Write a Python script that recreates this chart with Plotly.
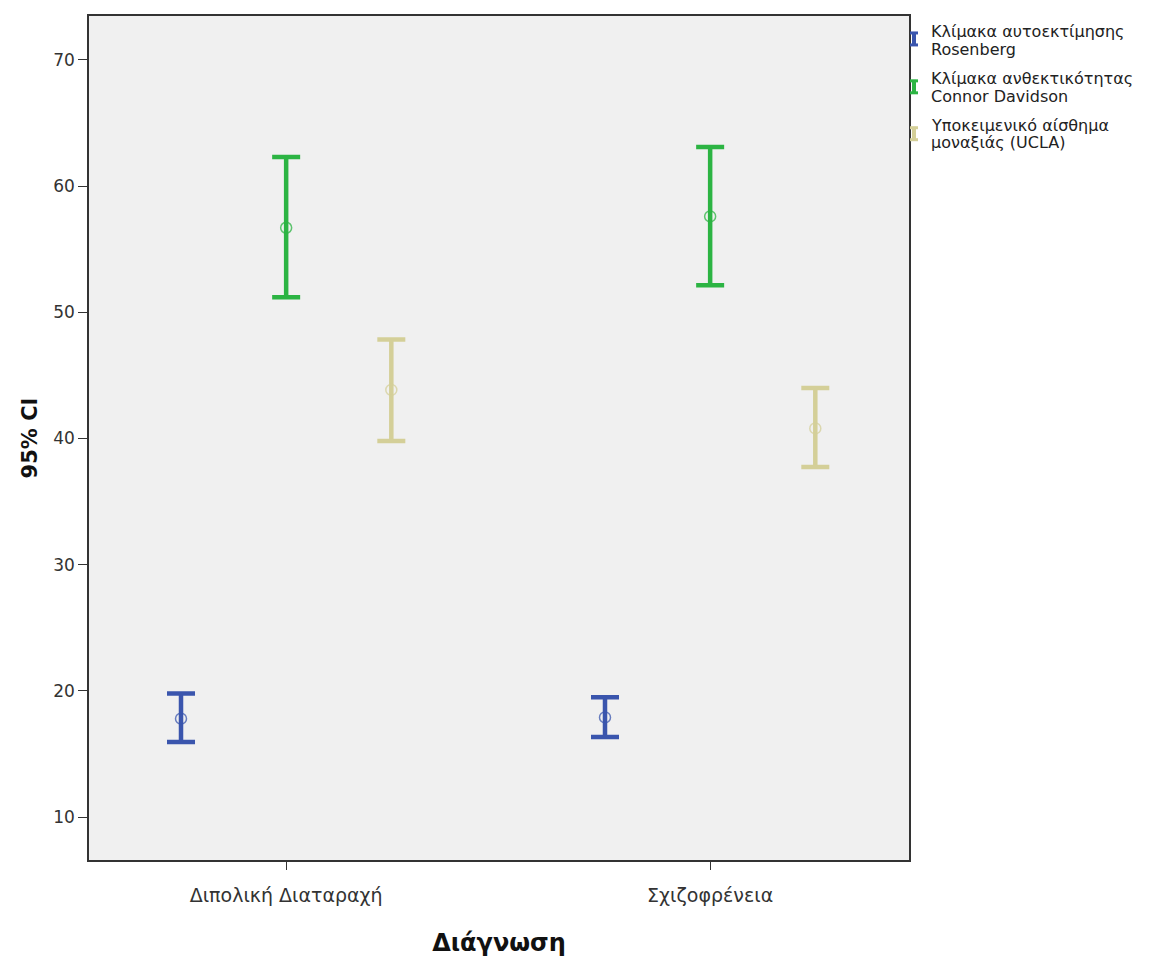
import plotly.graph_objects as go

categories = ["Διπολική Διαταραχή", "Σχιζοφρένεια"]
series_lines = [
    ["Κλίμακα αυτοεκτίμησης", "Rosenberg"],
    ["Κλίμακα ανθεκτικότητας", "Connor Davidson"],
    ["Υποκειμενικό αίσθημα", "μοναξιάς (UCLA)"],
]
rosenberg_mean = [17.8, 17.9]
rosenberg_low = [15.95, 16.35]
rosenberg_high = [19.8, 19.5]
connor_mean = [56.7, 57.6]
connor_low = [51.2, 52.15]
connor_high = [62.3, 63.1]
ucla_mean = [43.85, 40.8]
ucla_low = [39.8, 37.75]
ucla_high = [47.85, 44.0]
colors = ["#3a55ad", "#2cb443", "#d4cf98"]
y_ticks = [10, 20, 30, 40, 50, 60, 70]

means = [rosenberg_mean, connor_mean, ucla_mean]
lows = [rosenberg_low, connor_low, ucla_low]
highs = [rosenberg_high, connor_high, ucla_high]

FONT = "DejaVu Sans, Verdana, sans-serif"

fig = go.Figure()
for i in range(3):
    m, lo, hi = means[i], lows[i], highs[i]
    fig.add_trace(go.Scatter(
        x=categories, y=m, mode="markers", name=" ".join(series_lines[i]),
        offsetgroup=str(i), showlegend=False,
        marker=dict(symbol="circle-open", size=11, color=colors[i], line=dict(width=1.5, color=colors[i]), opacity=0.75),
        error_y=dict(type="data", symmetric=False,
                     array=[h - v for h, v in zip(hi, m)],
                     arrayminus=[v - l for v, l in zip(m, lo)],
                     color=colors[i], thickness=4.5, width=14),
    ))

# page body offset of the browser (~8 px) is compensated in the margins
OFF = 8
W, H = 1150, 963
L, T = 89 - OFF, 14 - OFF
R = W - (909 - OFF)
B = H - (860 - OFF)
pw, ph = W - L - R, H - T - B

def px_x(px):
    return (px - OFF - L) / pw

def px_y(py):
    return (H - B - (py - OFF)) / ph

shapes = []
annotations = []
legend_rows = [37, 85, 132]
line_rows = [(30, 48), (77, 95), (124, 141)]
for i, cy in enumerate(legend_rows):
    cx = 914
    shapes.append(dict(type="line", xref="paper", yref="paper", x0=px_x(cx), x1=px_x(cx), y0=px_y(cy - 7), y1=px_y(cy + 7), line=dict(color=colors[i], width=4)))
    for yy in (cy - 6, cy + 6):
        shapes.append(dict(type="line", xref="paper", yref="paper", x0=px_x(cx - 4), x1=px_x(cx + 4), y0=px_y(yy), y1=px_y(yy), line=dict(color=colors[i], width=3)))
    for txt, ty in zip(series_lines[i], line_rows[i]):
        annotations.append(dict(xref="paper", yref="paper", x=px_x(929), y=px_y(ty), xanchor="left", yanchor="middle",
                                text=txt, showarrow=False, align="left",
                                font=dict(family=FONT, size=16, color="#222222")))

fig.update_layout(
    width=W, height=H,
    margin=dict(l=L, r=R, t=T, b=B),
    paper_bgcolor="white", plot_bgcolor="#f0f0f0",
    scattermode="group", scattergap=0.256,
    shapes=shapes, annotations=annotations,
    xaxis=dict(type="category", range=[-0.465, 1.469], showline=True, mirror=True, linecolor="#333333", linewidth=1.5,
               ticks="outside", ticklen=8, tickcolor="#333333", showgrid=False, ticklabelstandoff=9,
               tickfont=dict(family=FONT, size=19, color="#333333"),
               title=dict(text="<b>Διάγνωση</b>", font=dict(family=FONT, size=24, color="#111111"), standoff=30)),
    yaxis=dict(range=[6.6, 73.48], tickvals=y_ticks, showline=True, mirror=True, linecolor="#333333", linewidth=1.5,
               ticks="outside", ticklen=9, tickcolor="#333333", showgrid=False, zeroline=False,
               tickfont=dict(family=FONT, size=17, color="#333333"),
               title=dict(text="<b>95% CI</b>", font=dict(family=FONT, size=21, color="#111111"), standoff=10)),
)

fig.write_html("out.html")
